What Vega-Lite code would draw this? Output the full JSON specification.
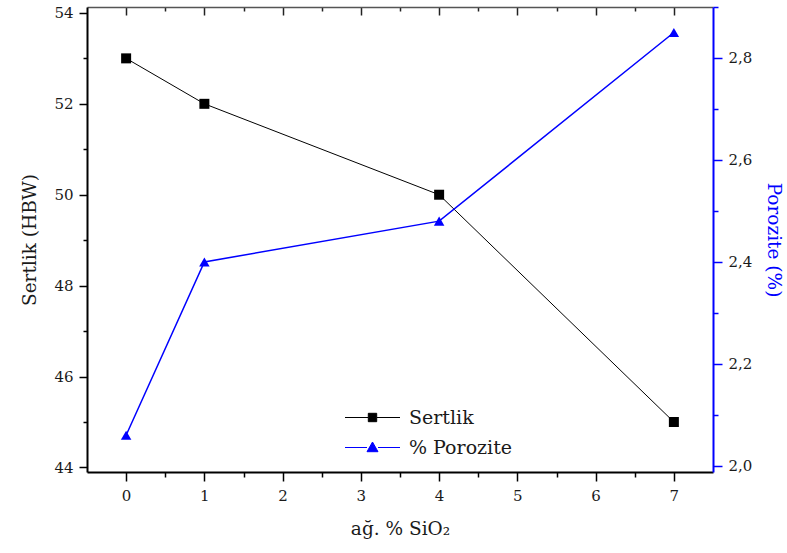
{
  "$schema": "https://vega.github.io/schema/vega-lite/v6.json",
  "width": 626,
  "height": 465,
  "autosize": {"type": "none"},
  "padding": {"left": 87, "top": 7, "right": 74, "bottom": 81},
  "background": "white",
  "config": {
    "view": {"stroke": null},
    "font": "DejaVu Serif",
    "axis": {
      "labelFont": "DejaVu Serif",
      "titleFont": "DejaVu Serif",
      "labelFontSize": 15,
      "titleFontSize": 18.5,
      "titleFontWeight": "normal",
      "labelColor": "#1a1a1a",
      "titleColor": "#1a1a1a",
      "grid": false,
      "domainWidth": 2,
      "tickWidth": 1.5
    },
    "legend": {
      "labelFont": "DejaVu Serif"
    }
  },
  "data": {
    "values": [
      {"SiO2": 0, "series": "Sertlik", "value": 53},
      {"SiO2": 1, "series": "Sertlik", "value": 52},
      {"SiO2": 4, "series": "Sertlik", "value": 50},
      {"SiO2": 7, "series": "Sertlik", "value": 45},
      {"SiO2": 0, "series": "% Porozite", "value": 2.06},
      {"SiO2": 1, "series": "% Porozite", "value": 2.40},
      {"SiO2": 4, "series": "% Porozite", "value": 2.48},
      {"SiO2": 7, "series": "% Porozite", "value": 2.85}
    ]
  },
  "layer": [
    {
      "transform": [{"filter": "datum.series === 'Sertlik'"}],
      "encoding": {
        "x": {
          "field": "SiO2",
          "type": "quantitative",
          "scale": {"domain": [-0.5, 7.5], "nice": false, "zero": false},
          "axis": {
            "orient": "bottom",
            "title": "ağ. % SiO₂",
            "values": [0, 0.5, 1, 1.5, 2, 2.5, 3, 3.5, 4, 4.5, 5, 5.5, 6, 6.5, 7],
            "labelExpr": "datum.value % 1 === 0 ? format(datum.value, 'd') : ''",
            "tickSize": {"condition": {"test": "datum.value % 1 === 0", "value": 9}, "value": 5},
            "domainColor": "black",
            "tickColor": "black",
            "labelPadding": 7,
            "titlePadding": 16,
            "labelFlush": false
          }
        },
        "y": {
          "field": "value",
          "type": "quantitative",
          "scale": {"domain": [43.9, 54.13], "nice": false, "zero": false},
          "axis": {
            "orient": "left",
            "title": "Sertlik (HBW)",
            "values": [44, 45, 46, 47, 48, 49, 50, 51, 52, 53, 54],
            "labelExpr": "datum.value % 2 === 0 ? datum.label : ''",
            "tickSize": {"condition": {"test": "datum.value % 2 === 0", "value": 8}, "value": 4},
            "domainColor": "black",
            "tickColor": "black",
            "labelPadding": 6,
            "titlePadding": 14,
            "labelFlush": false
          }
        },
        "color": {
          "field": "series",
          "type": "nominal",
          "scale": {"domain": ["Sertlik", "% Porozite"], "range": ["black", "blue"]},
          "legend": {
            "orient": "none",
            "legendX": 275,
            "legendY": 400,
            "title": null,
            "padding": 0,
            "labelFont": "DejaVu Serif",
            "labelFontSize": 19,
            "labelColor": "#1a1a1a",
            "labelOffset": 26,
            "rowPadding": 9,
            "symbolSize": 400,
            "symbolStrokeWidth": 1,
            "encode": {
              "symbols": {
                "update": {
                  "shape": {"signal": "datum.value === 'Sertlik' ? 'M-2.75,0H-0.45M0.45,0H2.75M-0.42,-0.42H0.42V0.42H-0.42Z' : 'M-2.75,0H-0.55M0.55,0H2.75M0,-0.55L0.55,0.42H-0.55Z'"},
                  "fill": {"signal": "datum.value === 'Sertlik' ? 'black' : 'blue'"},
                  "stroke": {"signal": "datum.value === 'Sertlik' ? 'black' : 'blue'"},
                  "opacity": {"value": 1},
                  "fillOpacity": {"value": 1}
                }
              }
            }
          }
        }
      },
      "layer": [
        {"mark": {"type": "line", "strokeWidth": 1}},
        {"mark": {"type": "point", "shape": "square", "filled": true, "size": 100, "opacity": 1}}
      ]
    },
    {
      "transform": [{"filter": "datum.series === '% Porozite'"}],
      "encoding": {
        "x": {
          "field": "SiO2",
          "type": "quantitative",
          "scale": {"domain": [-0.5, 7.5], "nice": false, "zero": false},
          "axis": {
            "orient": "top",
            "title": null,
            "labels": false,
            "values": [0, 0.5, 1, 1.5, 2, 2.5, 3, 3.5, 4, 4.5, 5, 5.5, 6, 6.5, 7],
            "tickSize": {"condition": {"test": "datum.value % 1 === 0", "value": -8}, "value": -4},
            "domainColor": "#555555",
            "domainWidth": 1.5,
            "tickColor": "#222222"
          }
        },
        "y": {
          "field": "value",
          "type": "quantitative",
          "scale": {"domain": [1.988, 2.9], "nice": false, "zero": false},
          "axis": {
            "orient": "right",
            "title": "Porozite (%)",
            "titleColor": "blue",
            "values": [2.0, 2.1, 2.2, 2.3, 2.4, 2.5, 2.6, 2.7, 2.8, 2.9],
            "labelExpr": "round(datum.value * 10) % 2 === 0 ? replace(format(datum.value, '.1f'), '.', ',') : ''",
            "tickSize": {"condition": {"test": "round(datum.value * 10) % 2 === 0", "value": 9}, "value": 5},
            "domainColor": "blue",
            "tickColor": "blue",
            "labelPadding": 6,
            "titlePadding": 12,
            "labelFlush": false
          }
        },
        "color": {"field": "series", "type": "nominal"}
      },
      "layer": [
        {"mark": {"type": "line", "strokeWidth": 1.5}},
        {"mark": {"type": "point", "shape": "triangle-up", "filled": true, "size": 110, "opacity": 1}}
      ]
    }
  ],
  "resolve": {"scale": {"y": "independent"}, "axis": {"x": "independent", "y": "independent"}}
}
